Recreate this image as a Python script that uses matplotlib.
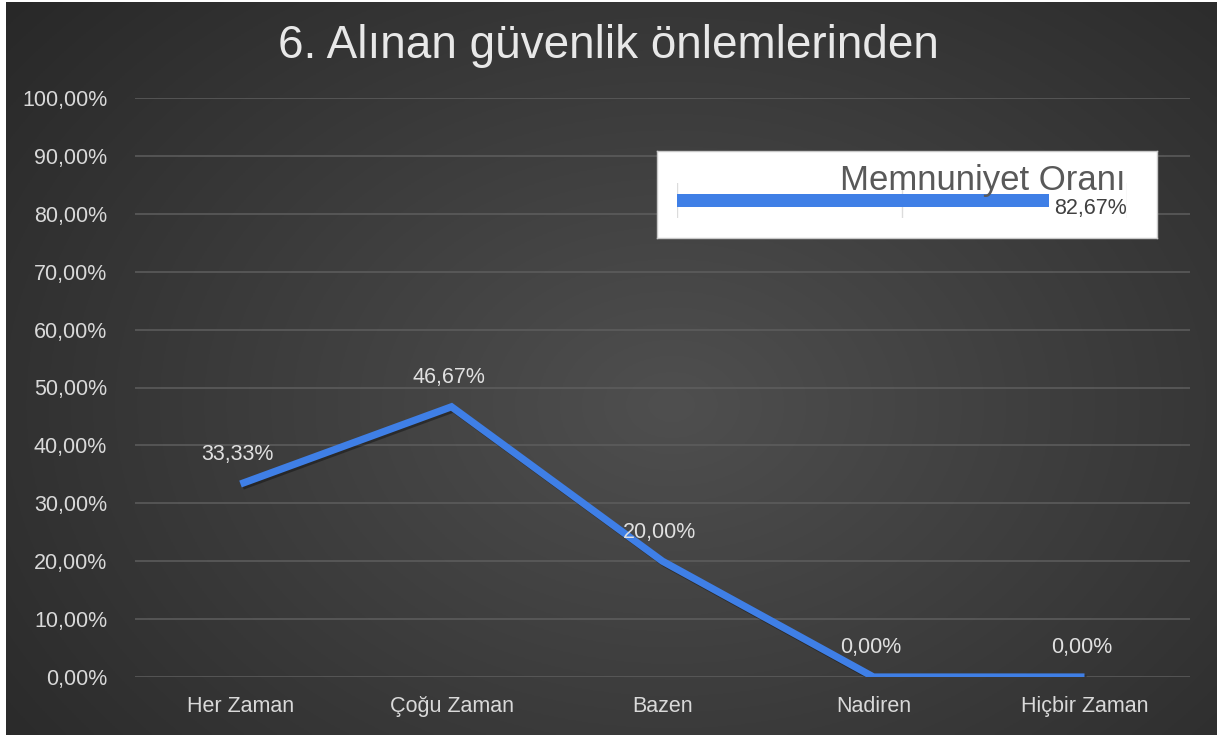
import numpy as np
import matplotlib
matplotlib.use("Agg")
import matplotlib.pyplot as plt
import matplotlib.patheffects as pe

plt.rcParams['font.family'] = ['Liberation Sans', 'DejaVu Sans']

# data
categories = ["Her Zaman", "Çoğu Zaman", "Bazen", "Nadiren", "Hiçbir Zaman"]
values = [33.33, 46.67, 20.00, 0.00, 0.00]
y_ticks = [0, 10, 20, 30, 40, 50, 60, 70, 80, 90, 100]
title = "6. Alınan güvenlik önlemlerinden"
summary_label = "Memnuniyet Oranı"
summary_value = 82.67

W, H = 1217, 735
fig = plt.figure(figsize=(W / 100, H / 100), dpi=100, facecolor="white")

def fx(px):
    return px / W

def fy(py):
    return 1 - py / H

# radial dark gradient background
bg = fig.add_axes([fx(6), 0, 1 - fx(6), 1 - 2 / H])
bg.set_axis_off()
yy, xx = np.mgrid[0:1:300j, 0:1:500j]
r = np.sqrt(((xx - 0.55) / 0.75) ** 2 + ((yy - 0.45) / 0.9) ** 2)
shade = 0.31 - 0.16 * np.clip(r, 0, 1.2)
img = np.dstack([shade, shade, shade])
bg.imshow(img, aspect="auto", extent=[0, 1, 0, 1], origin="lower")
bg.set_xlim(0, 1)
bg.set_ylim(0, 1)

fig.text(fx(608), fy(46), title, color="#e8e8e8", fontsize=33,
         ha="center", va="center")

# main chart
ax = fig.add_axes([fx(135), fy(677), fx(1190 - 135), (677 - 98) / H])
ax.patch.set_alpha(0)
x = np.arange(len(categories))
vals = np.array(values) / 100
ax.plot(x, vals, color="#3f7fe6", lw=5.2, solid_capstyle="butt",
        solid_joinstyle="miter", zorder=3,
        path_effects=[pe.SimpleLineShadow(offset=(1.5, -1.5), shadow_color="black", alpha=0.35),
                      pe.Normal()])
for xi, v in zip(x, values):
    ax.annotate(f"{v:.2f}%".replace(".", ","), (xi, v / 100), xytext=(-2, 21),
                textcoords="offset points", ha="center", va="center",
                color="#e0e0e0", fontsize=15.5)

ax.set_xlim(-0.5, len(categories) - 0.5)
ax.set_ylim(0, 1)
ax.set_yticks([t / 100 for t in y_ticks])
ax.set_yticklabels([f"{t},00%" for t in y_ticks])
ax.set_xticks(x)
ax.set_xticklabels(categories)
ax.tick_params(length=0, colors="#d9d9d9", labelsize=15.5)
ax.tick_params(axis="y", pad=20)
ax.tick_params(axis="x", pad=14)
ax.grid(axis="y", color="#5e5e5e", lw=1.1)
ax.set_axisbelow(True)
for s in ax.spines.values():
    s.set_visible(False)

# summary box
box = fig.add_axes([fx(657), fy(238), fx(500), 87 / H])
box.set_facecolor("white")
box.set_xticks([])
box.set_yticks([])
for s in box.spines.values():
    s.set_color("#c8c8c8")
    s.set_linewidth(1)

mini = fig.add_axes([fx(677), fy(218), fx(450), 35 / H])
mini.patch.set_alpha(0)
mini.barh([0], [summary_value], height=0.38, color="#3f7fe6")
mini.set_xlim(0, 100)
mini.set_ylim(-0.5, 0.5)
mini.set_xticks([0, 50, 100])
mini.set_yticks([])
mini.tick_params(length=0, labelbottom=False)
mini.grid(axis="x", color="#dcdcdc", lw=1)
mini.set_axisbelow(True)
for s in mini.spines.values():
    s.set_visible(False)
mini.text(summary_value + 1.2, -0.22, f"{summary_value:.2f}%".replace(".", ","),
          ha="left", va="center", fontsize=15.5, color="#404040")
fig.text(fx(1125), fy(190), summary_label, ha="right", va="baseline",
         fontsize=25, color="#595959")

fig.savefig("out.png", dpi=100, facecolor="white")
